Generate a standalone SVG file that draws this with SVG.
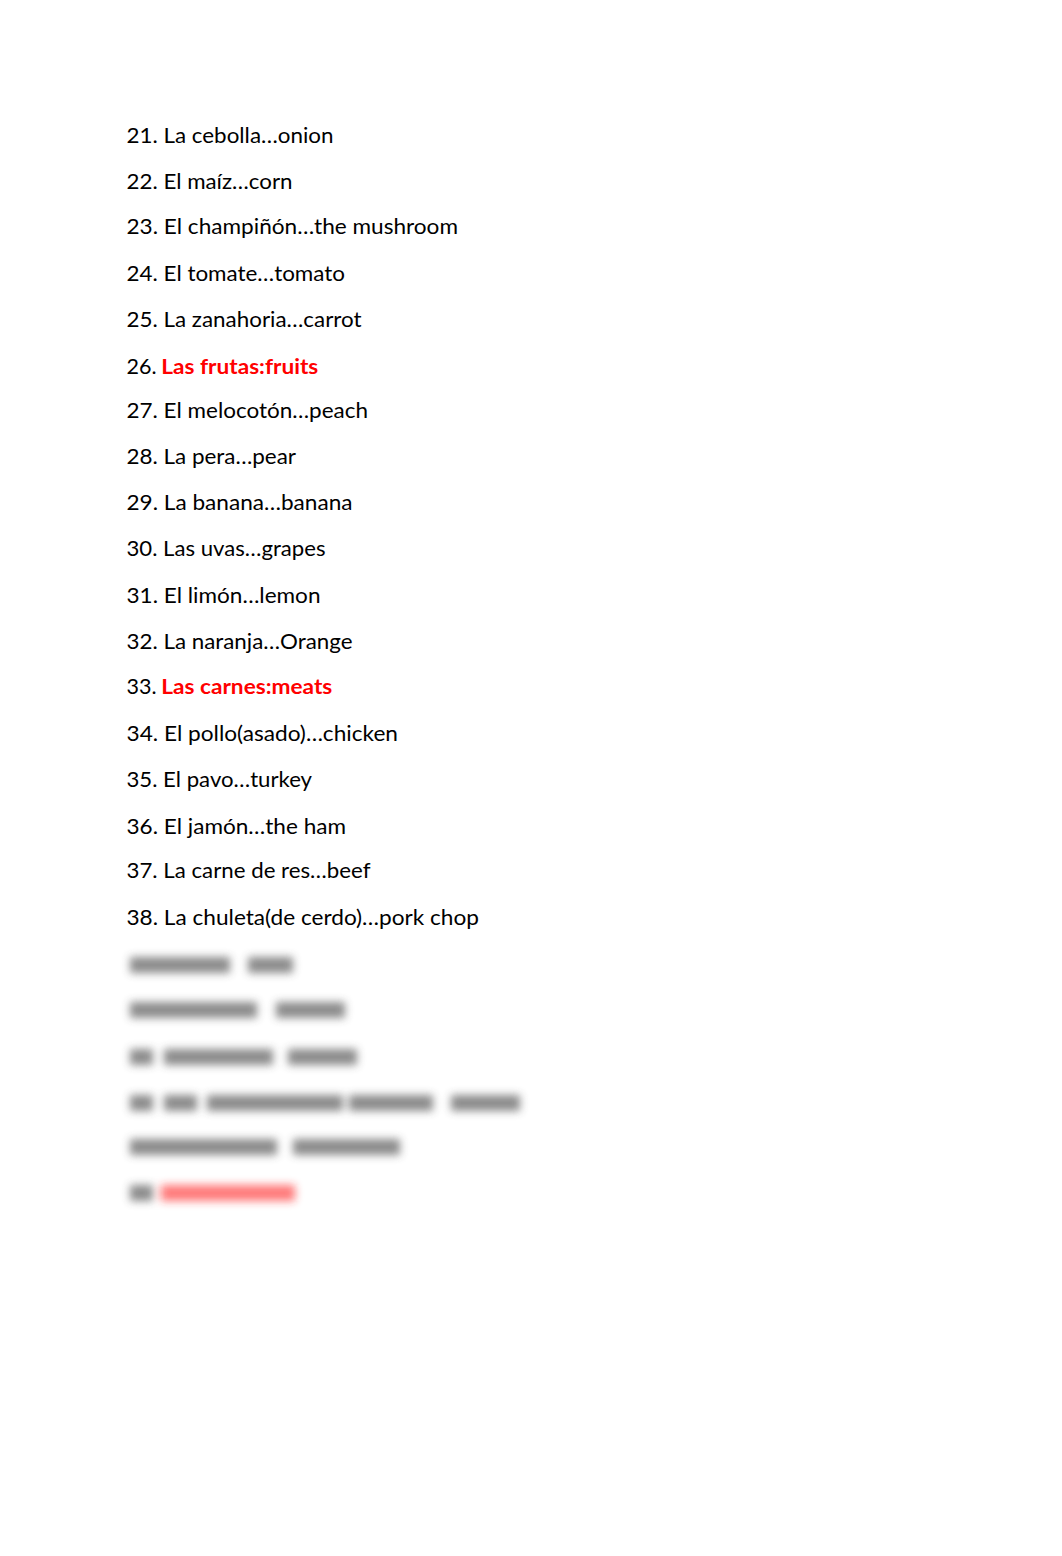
<svg xmlns="http://www.w3.org/2000/svg" width="1062" height="1556" viewBox="0 0 1062 1556">
<style>
text{font-family:Lato,"Liberation Sans",sans-serif;font-size:21.5px;fill:#000}
.r{fill:#ff0000;font-weight:bold}
.b{fill:#404040}
.br{fill:#ff2020}
</style>
<defs>
<filter id="blur" x="-20%" y="-100%" width="140%" height="300%"><feGaussianBlur stdDeviation="4.2"/></filter>
</defs>
<rect width="1062" height="1556" fill="#fff"/>
<g id="list">
<text x="126.5" y="142.5" textLength="207" lengthAdjust="spacingAndGlyphs">21. La cebolla…onion</text>
<text x="126.5" y="188.5" textLength="166" lengthAdjust="spacingAndGlyphs">22. El maíz…corn</text>
<text x="126.5" y="233.5" textLength="331.5" lengthAdjust="spacingAndGlyphs">23. El champiñón…the mushroom</text>
<text x="126.5" y="280.5" textLength="218.5" lengthAdjust="spacingAndGlyphs">24. El tomate…tomato</text>
<text x="126.5" y="326.5" textLength="235" lengthAdjust="spacingAndGlyphs">25. La zanahoria…carrot</text>
<text x="126.5" y="373.5">26.</text>
<text class="r" x="161.3" y="373.5" textLength="157" lengthAdjust="spacingAndGlyphs">Las frutas:fruits</text>
<text x="126.5" y="417.5" textLength="241.5" lengthAdjust="spacingAndGlyphs">27. El melocotón…peach</text>
<text x="126.5" y="464" textLength="169.5" lengthAdjust="spacingAndGlyphs">28. La pera…pear</text>
<text x="126.5" y="510" textLength="226" lengthAdjust="spacingAndGlyphs">29. La banana…banana</text>
<text x="126.5" y="555.5" textLength="199" lengthAdjust="spacingAndGlyphs">30. Las uvas…grapes</text>
<text x="126.5" y="602.5" textLength="194" lengthAdjust="spacingAndGlyphs">31. El limón…lemon</text>
<text x="126.5" y="648.5" textLength="226" lengthAdjust="spacingAndGlyphs">32. La naranja…Orange</text>
<text x="126.5" y="693.5">33.</text>
<text class="r" x="161.3" y="693.5" textLength="171" lengthAdjust="spacingAndGlyphs">Las carnes:meats</text>
<text x="126.5" y="740.5" textLength="271.5" lengthAdjust="spacingAndGlyphs">34. El pollo(asado)…chicken</text>
<text x="126.5" y="786.5" textLength="185.5" lengthAdjust="spacingAndGlyphs">35. El pavo…turkey</text>
<text x="126.5" y="833.5" textLength="219.5" lengthAdjust="spacingAndGlyphs">36. El jamón…the ham</text>
<text x="126.5" y="877.5" textLength="244" lengthAdjust="spacingAndGlyphs">37. La carne de res…beef</text>
<text x="126.5" y="924.5" textLength="352.5" lengthAdjust="spacingAndGlyphs">38. La chuleta(de cerdo)…pork chop</text>
</g>
<g id="blurred" filter="url(#blur)" opacity="0.6">
<rect class="b" x="130" y="957" width="100" height="16"/>
<rect class="b" x="248" y="957" width="45" height="16"/>
<rect class="b" x="130" y="1002" width="127" height="16"/>
<rect class="b" x="276" y="1002" width="69" height="16"/>
<rect class="b" x="130" y="1049" width="23" height="16"/>
<rect class="b" x="164" y="1049" width="109" height="16"/>
<rect class="b" x="288" y="1049" width="69" height="16"/>
<rect class="b" x="130" y="1095" width="23" height="16"/>
<rect class="b" x="164" y="1095" width="33" height="16"/>
<rect class="b" x="207" y="1095" width="136" height="16"/>
<rect class="b" x="349" y="1095" width="84" height="16"/>
<rect class="b" x="451" y="1095" width="69" height="16"/>
<rect class="b" x="130" y="1139" width="147" height="16"/>
<rect class="b" x="293" y="1139" width="107" height="16"/>
<rect class="b" x="130" y="1185" width="23" height="16"/>
<rect class="br" x="161" y="1185" width="134" height="16"/>
</g>
</svg>
